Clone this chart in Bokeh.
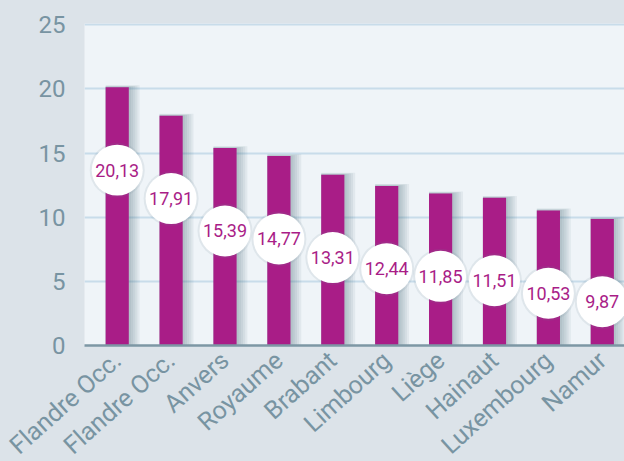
from bokeh.plotting import figure
from bokeh.models import Range1d, FixedTicker, ColumnDataSource
from bokeh.core.properties import value
from bokeh.embed import file_html
from bokeh.resources import INLINE

# ---- data ----
regions = ["Flandre Occ.", "Flandre Occ.", "Anvers", "Royaume", "Brabant",
           "Limbourg", "Liège", "Hainaut", "Luxembourg", "Namur"]
rates = [20.13, 17.91, 15.39, 14.77, 13.31, 12.44, 11.85, 11.51, 10.53, 9.87]
y_ticks = [0, 5, 10, 15, 20, 25]

# ---- styles ----
BAR = "#a91d87"
OUTER = "#dce3e9"
INNER = "#eff4f8"
GRID = "#c8dcea"
AXIS = "#7d97a4"
TICK_TXT = "#7894a2"
BAR_W = 0.43
LABEL_DROP = 6.46   # circle centre sits this far below the bar top (data units)
SH_STEP = 0.04      # shadow step (data units)

xs = list(range(len(regions)))
labels = [f"{r:.2f}".replace(".", ",") for r in rates]

data = dict(
    x=xs, top=rates, label=labels,
    ly=[r - LABEL_DROP for r in rates],
    left=[x - BAR_W / 2 for x in xs],
)
for k in range(1, 6):
    data[f"sr{k}"] = [x + BAR_W / 2 + k * SH_STEP for x in xs]
    data[f"st{k}"] = [r + 0.03 * k for r in rates]
src = ColumnDataSource(data)

p = figure(width=624, height=461, frame_width=540, frame_height=322,
           x_range=Range1d(-0.607, 9.412), y_range=Range1d(0, 25.1),
           output_backend="svg", toolbar_location=None,
           min_border_left=84, min_border_right=0, min_border_top=23,
           min_border_bottom=116)

p.background_fill_color = INNER
p.border_fill_color = OUTER
p.outline_line_color = None

# grid
p.xgrid.grid_line_color = None
p.ygrid.grid_line_color = GRID
p.ygrid.grid_line_width = 2

# y axis
p.yaxis.ticker = FixedTicker(ticks=y_ticks)
p.yaxis.axis_line_color = None
p.yaxis.major_tick_line_color = None
p.yaxis.minor_tick_line_color = None
p.yaxis.major_label_standoff = 13
p.yaxis.major_label_text_font = "Roboto"
p.yaxis.major_label_text_font_size = "24px"
p.yaxis.major_label_text_color = TICK_TXT

# x axis
p.xaxis.ticker = FixedTicker(ticks=xs)
p.xaxis.major_label_overrides = {i: n for i, n in enumerate(regions)}
p.xaxis.major_label_orientation = 0.73
p.xaxis.axis_line_color = AXIS
p.xaxis.axis_line_width = 2.5
p.xaxis.major_tick_line_color = None
p.xaxis.minor_tick_line_color = None
p.xaxis.major_label_standoff = 5
p.xaxis.major_label_text_font = "Roboto"
p.xaxis.major_label_text_font_size = "25px"
p.xaxis.major_label_text_color = TICK_TXT

# bar shadows (soft, to the right)
for k in range(1, 6):
    p.quad(left="left", right=f"sr{k}", top=f"st{k}", bottom=0, source=src,
           fill_color="#3f6274", fill_alpha=0.08, line_color=None)

# bars
p.vbar(x="x", top="top", width=BAR_W, bottom=0, source=src,
       fill_color=BAR, line_color=None)

# circle shadows + circles
p.scatter(x="x", y="ly", size=55, source=src, fill_color="#6b8796",
          fill_alpha=0.12, line_color=None)
p.scatter(x="x", y="ly", size=51, source=src, fill_color="white",
          line_color=None)

p.text(x="x", y="ly", text="label", source=src, text_align="center",
       text_baseline="middle", text_font=value("Roboto"),
       text_font_size="18px", text_color=BAR)

html = file_html(p, INLINE)
html = html.replace("</head>", "<style>body{background:%s;}</style></head>" % OUTER, 1)
open("out.html", "w").write(html)
